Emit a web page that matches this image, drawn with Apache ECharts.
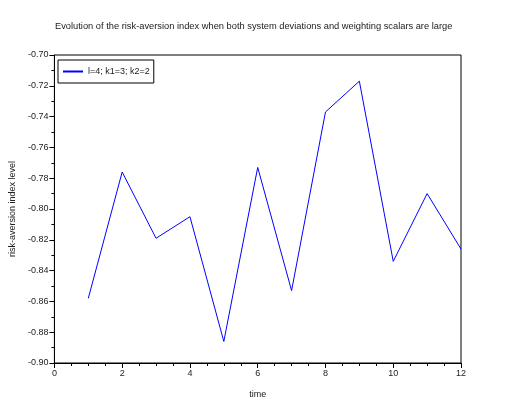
<!DOCTYPE html>
<html><head><meta charset="utf-8">
<script src="https://cdn.jsdelivr.net/npm/echarts@6/dist/echarts.min.js"></script>
<style>html,body{margin:0;padding:0;background:#fff}#c{width:523px;height:417px}</style>
</head><body><div id="c"></div>
<script>
const timeValues = [1, 2, 3, 4, 5, 6, 7, 8, 9, 10, 11, 12];
const riskAversion = [-0.858, -0.776, -0.819, -0.805, -0.886, -0.773, -0.853, -0.737, -0.717, -0.834, -0.790, -0.826];
const seriesName = 'l=4; k1=3; k2=2';
const chartTitle = 'Evolution of the risk-aversion index when both system deviations and weighting scalars are large';

const chart = echarts.init(document.getElementById('c'));
const font = 'Liberation Sans, Arial, sans-serif';
chart.setOption({
  animation: false,
  title: {text: chartTitle, left: 50, top: 17, textStyle: {fontSize: 9.3, fontWeight: 'normal', color: '#222', fontFamily: font}},
  grid: {left: 52, right: 62, top: 55, bottom: 54, show: true, borderColor: '#000', borderWidth: 1},
  legend: {
    show: true, left: 58, top: 60, orient: 'vertical',
    padding: [7, 4, 7, 5], itemWidth: 20, itemHeight: 2, itemGap: 4,
    borderColor: '#000', borderWidth: 1,
    textStyle: {fontSize: 9, color: '#222', fontFamily: font},
    icon: 'rect'
  },
  xAxis: {
    type: 'value', min: 0, max: 12, interval: 2,
    name: 'time', nameLocation: 'middle', nameGap: 27,
    nameTextStyle: {fontSize: 9, color: '#222', fontFamily: font},
    axisLine: {show: true, lineStyle: {color: '#000'}},
    axisTick: {show: true, inside: false, length: 5, lineStyle: {color: '#000'}},
    minorTick: {show: true, splitNumber: 4, length: 3, lineStyle: {color: '#000'}},
    splitLine: {show: false},
    axisLabel: {fontSize: 9, color: '#222', fontFamily: font, margin: 6}
  },
  yAxis: {
    type: 'value', min: -0.9, max: -0.7, interval: 0.02,
    name: 'risk-aversion index level', nameLocation: 'middle', nameGap: 36,
    nameTextStyle: {fontSize: 9, color: '#222', fontFamily: font},
    axisLine: {show: true, lineStyle: {color: '#000'}},
    axisTick: {show: true, inside: false, length: 5, lineStyle: {color: '#000'}},
    minorTick: {show: true, splitNumber: 2, length: 3, lineStyle: {color: '#000'}},
    splitLine: {show: false},
    axisLabel: {fontSize: 9, color: '#222', fontFamily: font, margin: 6, formatter: v => v.toFixed(2)}
  },
  series: [{
    name: seriesName, type: 'line', showSymbol: false, symbol: 'none',
    data: timeValues.map((t, i) => [t, riskAversion[i]]),
    lineStyle: {color: '#0000ff', width: 1}, itemStyle: {color: '#0000ff'}
  }]
});
</script></body></html>
